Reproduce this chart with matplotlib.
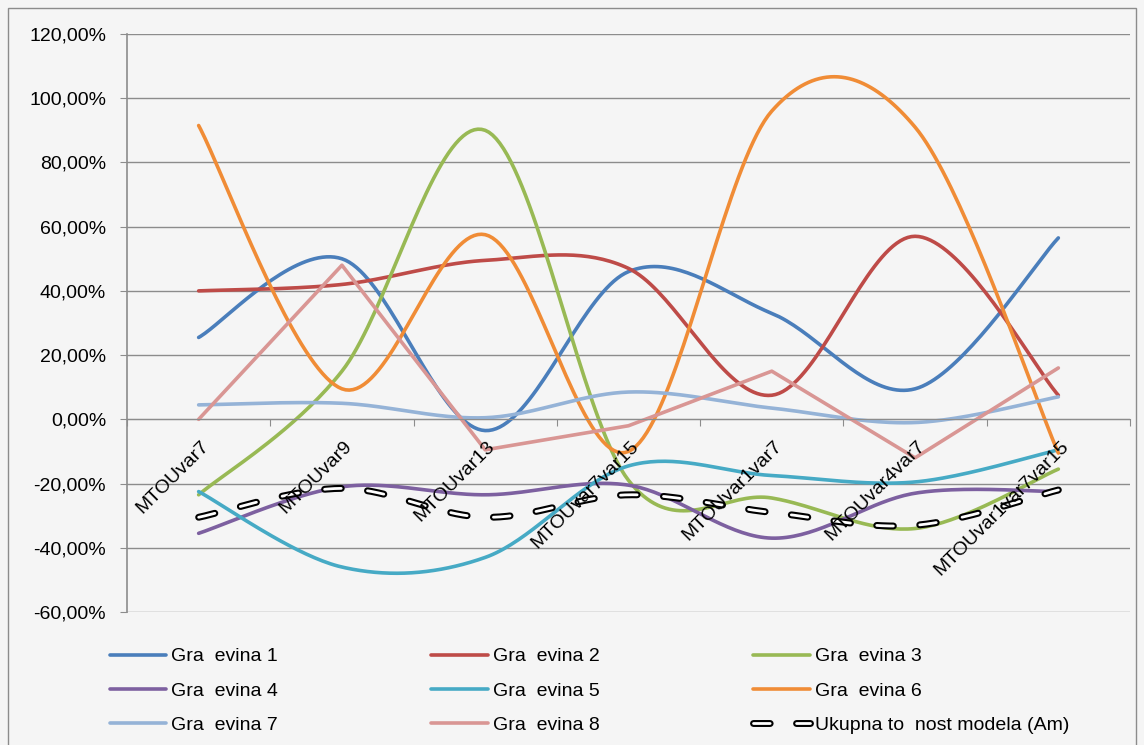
import numpy as np
import matplotlib
matplotlib.use("Agg")
from matplotlib import pyplot as plt
from matplotlib.patches import Rectangle
from matplotlib.legend_handler import HandlerTuple

plt.rcParams['font.family'] = ['Liberation Sans', 'DejaVu Sans']
plt.rcParams['lines.scale_dashes'] = False

categories = ["MTOUvar7", "MTOUvar9", "MTOUvar13", "MTOUvar7var15",
              "MTOUvar1var7", "MTOUvar4var7", "MTOUvar1var7var15"]

gra1 = [25.5, 50.0, -3.5, 46.0, 33.0, 9.5, 56.5]
gra2 = [40.0, 42.0, 49.5, 47.0, 7.5, 57.0, 7.5]
gra3 = [-23.5, 15.0, 90.0, -19.0, -24.5, -34.0, -15.5]
gra4 = [-35.5, -21.0, -23.5, -20.5, -37.0, -23.0, -22.5]
gra5 = [-22.5, -46.0, -43.0, -14.5, -17.5, -19.5, -9.5]
gra6 = [91.5, 9.5, 57.5, -10.0, 96.0, 91.0, -10.5]
gra7 = [4.5, 5.0, 0.5, 8.5, 3.5, -1.0, 7.0]
gra8 = [0.0, 48.0, -9.5, -2.0, 15.0, -12.0, 16.0]
ukupna = [-30.5, -21.5, -30.5, -23.5, -29.0, -33.0, -22.0]

series = [gra1, gra2, gra3, gra4, gra5, gra6, gra7, gra8]
labels = ["Gra  evina 1", "Gra  evina 2", "Gra  evina 3", "Gra  evina 4",
          "Gra  evina 5", "Gra  evina 6", "Gra  evina 7", "Gra  evina 8"]
colors = ["#4A7EBB", "#BE4B48", "#98B954", "#7D60A0",
          "#46AAC5", "#F08C36", "#95B3D7", "#D99694"]
smooth = [True, True, True, True, True, True, True, False]


def excel_smooth(y, n=40):
    # catmull-rom style bezier like excel's smoothed line
    x = np.arange(len(y), dtype=float)
    y = np.asarray(y, dtype=float)
    px = np.concatenate(([x[0]], x, [x[-1]]))
    py = np.concatenate(([y[0]], y, [y[-1]]))
    xs, ys = [], []
    t = np.linspace(0, 1, n)
    for i in range(1, len(px) - 2):
        p0 = np.array([px[i], py[i]])
        p3 = np.array([px[i + 1], py[i + 1]])
        c1 = p0 + (np.array([px[i + 1], py[i + 1]]) - np.array([px[i - 1], py[i - 1]])) / 6
        c2 = p3 - (np.array([px[i + 2], py[i + 2]]) - np.array([px[i], py[i]])) / 6
        b = ((1 - t) ** 3)[:, None] * p0 + (3 * (1 - t) ** 2 * t)[:, None] * c1 \
            + (3 * (1 - t) * t ** 2)[:, None] * c2 + (t ** 3)[:, None] * p3
        xs.append(b[:, 0])
        ys.append(b[:, 1])
    return np.concatenate(xs), np.concatenate(ys)


bg = "#F5F5F5"
fig = plt.figure(figsize=(11.44, 7.45), dpi=100, facecolor=bg)
ax = fig.add_axes([127 / 1144, 1 - 612 / 745, (1130 - 127) / 1144, (612 - 34) / 745])
ax.set_facecolor(bg)

handles = []
for vals, lab, col, sm in zip(series, labels, colors, smooth):
    if sm:
        xs, ys = excel_smooth(vals)
    else:
        xs, ys = np.arange(len(vals)), np.array(vals)
    h, = ax.plot(xs, ys, color=col, lw=2.6, solid_capstyle='round', label=lab)
    handles.append(h)

xs, ys = excel_smooth(ukupna)
d1, = ax.plot(xs, ys, color="black", lw=5, dashes=(12, 19), dash_capstyle='round')
d2, = ax.plot(xs, ys, color="white", lw=2, dashes=(12, 19), dash_capstyle='round')

ax.set_xlim(-0.5, len(categories) - 0.5)
ax.set_ylim(-60, 120)
ax.set_yticks(np.arange(-60, 121, 20))
ax.set_yticklabels([f"{v:.2f}".replace(".", ",") + "%" for v in np.arange(-60, 121, 20)],
                   fontsize=14)
ax.yaxis.grid(True, color="#8C8C8C", lw=1)
ax.set_axisbelow(True)

for s in ["top", "right"]:
    ax.spines[s].set_visible(False)
ax.spines["left"].set_color("#8C8C8C")
ax.spines["left"].set_linewidth(1.2)
ax.spines["bottom"].set_position(("data", 0))
ax.spines["bottom"].set_color("#8C8C8C")
ax.set_xticks(np.arange(len(categories) + 1) - 0.5)
ax.set_xticklabels([])
ax.tick_params(axis="x", length=5, color="#8C8C8C", direction="out")
ax.tick_params(axis="y", length=5, color="#8C8C8C", pad=10)

for i, c in enumerate(categories):
    ax.annotate(c, xy=(i, 0), xytext=(1, -13), textcoords="offset points",
                rotation=45, rotation_mode="anchor", ha="right", va="top", fontsize=14)

# legend laid out row-wise like excel
ukh = (d1, d2)
order = [0, 3, 6, 1, 4, 7, 2, 5, 8]
allh = handles + [ukh]
alll = labels + ["Ukupna to  nost modela (Am)"]
fig.legend([allh[i] for i in order], [alll[i] for i in order],
           loc="center left", bbox_to_anchor=(92 / 1144, 1 - 691 / 745),
           ncol=3, frameon=False, fontsize=14, handlelength=2.9,
           columnspacing=7.9, labelspacing=0.86, handletextpad=0.26,
           handler_map={tuple: HandlerTuple(ndivide=1)})

fig.add_artist(Rectangle((8 / 1144, -0.01), (1136 - 8) / 1144, 1 - 8 / 745 + 0.01,
                         transform=fig.transFigure, fill=False, ec="#8C8C8C", lw=1))

fig.savefig("out.png", dpi=100, facecolor=bg)
